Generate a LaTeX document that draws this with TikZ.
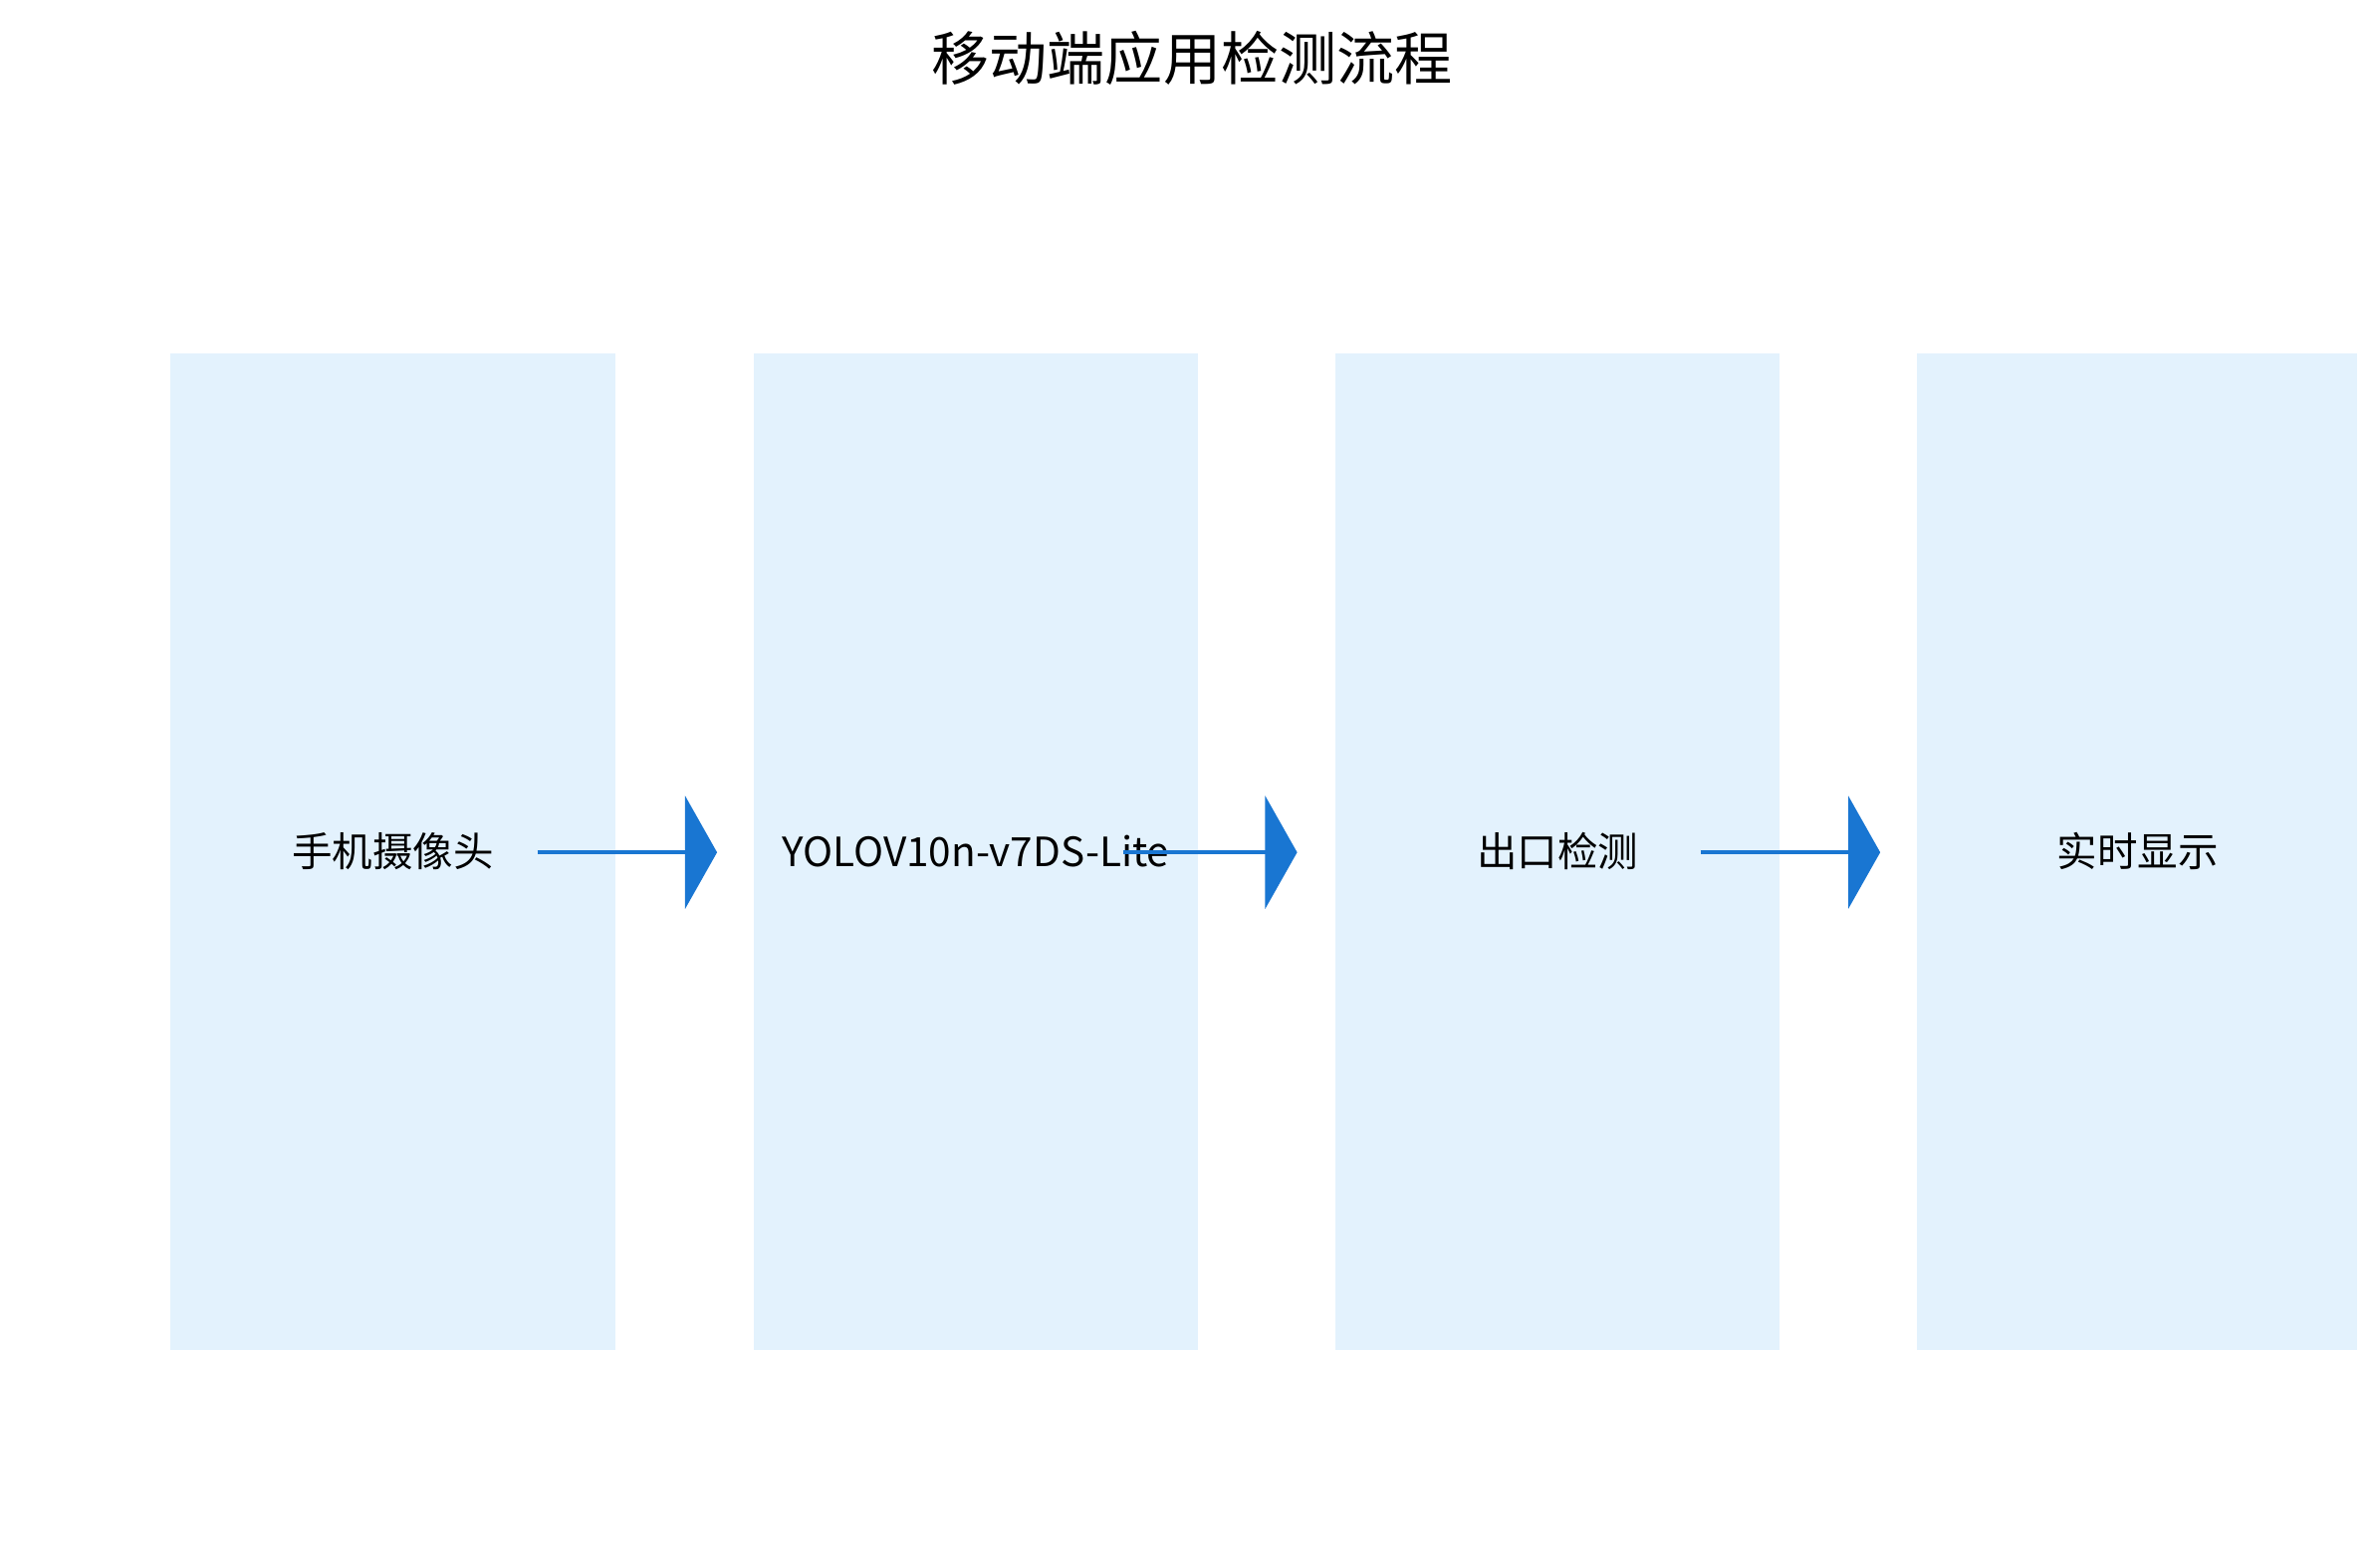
\documentclass[tikz,border=0pt]{standalone}
\usepackage{fontspec}
\setmainfont{Noto Sans CJK SC}
\usetikzlibrary{arrows.meta}
\definecolor{boxc}{HTML}{E3F2FD}
\definecolor{arrc}{HTML}{1976D2}
\begin{document}
\begin{tikzpicture}[x=1pt,y=-1pt,
  stage/.style={fill=boxc,draw=none},
  lbl/.style={font=\fontsize{26.5}{30}\selectfont,inner sep=0},
  flow/.style={draw=arrc,line width=2.5pt,-{Triangle[width=74pt,length=21pt]}}]
\useasboundingbox (0,0) rectangle (1560,1030);
\fill[white] (0,0) rectangle (1560,1030);
\node[font=\fontsize{38}{42}\selectfont] (title) at (783,38) {移动端应用检测流程};
\fill[stage] (112,232) rectangle (404,887);
\fill[stage] (495,232) rectangle (787,887);
\fill[stage] (877,232) rectangle (1169,887);
\fill[stage] (1259,232) rectangle (1548,887);
\node[lbl] (a) at (258,559) {手机摄像头};
\node[lbl] (b) at (641,559) {YOLOV10n-v7DS-Lite};
\node[lbl] (c) at (1023,559) {出口检测};
\node[lbl] (d) at (1404,559) {实时显示};
\coordinate (a1) at (353,560); \coordinate (a2) at (471,560);
\coordinate (b1) at (738,560); \coordinate (b2) at (852,560);
\coordinate (c1) at (1117,560); \coordinate (c2) at (1235,560);
\draw[flow] (a1) -- (a2);
\draw[flow] (b1) -- (b2);
\draw[flow] (c1) -- (c2);
\end{tikzpicture}
\end{document}
